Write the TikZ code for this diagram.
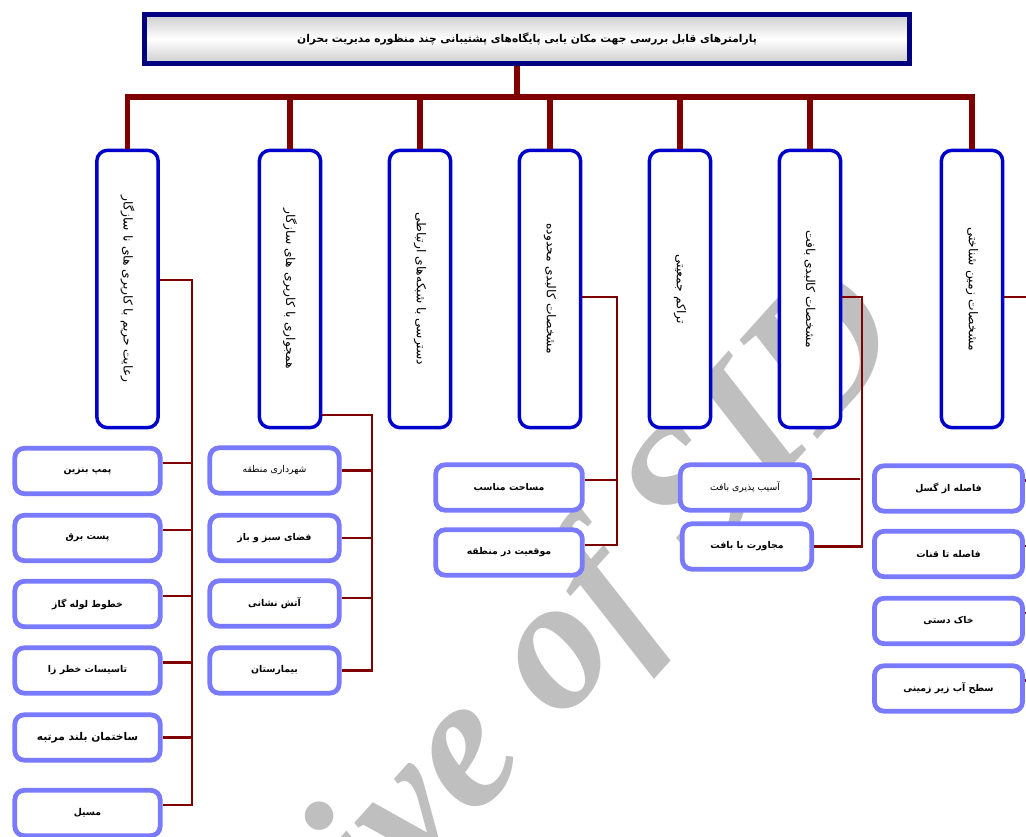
\documentclass[tikz,border=0pt]{standalone}
\usepackage{fontspec}
\usepackage{graphicx}
\TeXXeTstate=1
\newfontfamily\persianfont[Script=Arabic]{DejaVu Sans}
\newfontfamily\markfont{Liberation Serif}
\newcommand{\fatext}[1]{{\persianfont\beginR #1\endR}}
\newcommand{\vtext}[1]{\rotatebox{-90}{\fatext{#1}}}
\definecolor{navy}{RGB}{0,0,128}
\definecolor{mainblue}{RGB}{0,0,204}
\definecolor{subblue}{RGB}{122,122,255}
\definecolor{maroon}{RGB}{128,0,0}
\tikzset{
  titlebox/.style={draw=navy, line width=3.5pt, top color=gray!40, bottom color=gray!40,
    middle color=white, minimum width=574pt, minimum height=37pt, inner sep=0pt,
    font=\fontsize{8}{10}\selectfont\bfseries},
  mainbox/.style={draw=mainblue, line width=2.6pt, rounded corners=8pt, fill=white,
    minimum width=46pt, minimum height=208pt, inner sep=0pt, font=\fontsize{9.2}{11}\selectfont},
  subbox/.style={draw=subblue, line width=3.6pt, rounded corners=7pt, fill=white,
    minimum height=34pt, inner sep=0pt, font=\fontsize{7}{8}\selectfont\bfseries},
  plain/.style={font=\fontsize{7}{8}\selectfont},
  trunk/.style={draw=maroon, line width=3.8pt},
  branch/.style={draw=maroon, line width=1.8pt},
  watermark/.style={text=gray!50, rotate=48, inner sep=0pt,
    font=\markfont\bfseries\itshape\fontsize{142}{142}\selectfont}
}
\begin{document}
\begin{tikzpicture}[x=0.75pt,y=-0.75pt]
\useasboundingbox (0,0) rectangle (1026,837);
% watermark behind everything
\node[watermark] (wm) at (481,743) {Archive of SID};

% title
\node[titlebox] (title) at (527,39) {\fatext{پارامترهای  قابل بررسی جهت مکان یابی پایگاه‌های پشتیبانی چند منظوره مدیریت بحران}};

% main criteria
\node[mainbox] (harim) at (127.5,289) {\vtext{رعایت حریم با کاربری های نا سازگار}};
\node[mainbox] (hamjavari) at (290,289) {\vtext{همجواری با کاربری های سازگار}};
\node[mainbox] (dastrasi) at (420,289) {\vtext{دسترسی با شبکه‌های ارتباطی}};
\node[mainbox] (mahdoude) at (550,289) {\vtext{مشخصات کالبدی محدوده}};
\node[mainbox] (tarakom) at (680,289) {\vtext{تراکم جمعیتی}};
\node[mainbox] (baft) at (810,289) {\vtext{مشخصات کالبدی بافت}};
\node[mainbox] (zamin) at (972,289) {\vtext{مشخصات زمین شناختی}};

% sub criteria
\node[subbox, minimum width=109pt] (h1) at (87.5,471) {\fatext{پمپ بنزین}};
\node[subbox, minimum width=109pt] (h2) at (87.5,538) {\fatext{پست برق}};
\node[subbox, minimum width=109pt] (h3) at (87.5,604) {\fatext{خطوط لوله گاز}};
\node[subbox, minimum width=109pt] (h4) at (87.5,670.5) {\fatext{تاسیسات خطر زا}};
\node[subbox, minimum width=109pt, font=\fontsize{8}{9}\selectfont\bfseries] (h5) at (87.5,737.5) {\fatext{ساختمان بلند مرتبه}};
\node[subbox, minimum width=109pt] (h6) at (87.5,813) {\fatext{مسیل}};

\node[subbox, minimum width=97pt, plain] (j1) at (274.5,470.5) {\fatext{شهرداری منطقه}};
\node[subbox, minimum width=97pt] (j2) at (274.5,538) {\fatext{فضای سبز و باز}};
\node[subbox, minimum width=97pt] (j3) at (274.5,603.5) {\fatext{آتش نشانی}};
\node[subbox, minimum width=97pt] (j4) at (274.5,670.5) {\fatext{بیمارستان}};

\node[subbox, minimum width=110pt] (m1) at (509,487.5) {\fatext{مساحت مناسب}};
\node[subbox, minimum width=110pt] (m2) at (509,552.5) {\fatext{موقعیت در منطقه}};

\node[subbox, minimum width=97pt, plain] (b1) at (745,487.5) {\fatext{آسیب پذیری بافت}};
\node[subbox, minimum width=97pt] (b2) at (747,546.5) {\fatext{مجاورت با بافت}};

\node[subbox, minimum width=111pt] (z1) at (948.5,488.5) {\fatext{فاصله از گسل}};
\node[subbox, minimum width=111pt] (z2) at (948.5,554) {\fatext{فاصله تا قنات}};
\node[subbox, minimum width=111pt] (z3) at (948.5,621) {\fatext{خاک دستی}};
\node[subbox, minimum width=111pt] (z4) at (948.5,688.5) {\fatext{سطح آب زیر زمینی}};

% trunk lines
\coordinate (barM) at (517,97);
\draw[trunk] (title.south -| barM) -- (barM);
\draw[trunk] (harim.north) |- (barM) -| (zamin.north);
\draw[trunk] (hamjavari.north) -- (hamjavari.north |- barM);
\draw[trunk] (dastrasi.north) -- (dastrasi.north |- barM);
\draw[trunk] (mahdoude.north) -- (mahdoude.north |- barM);
\draw[trunk] (tarakom.north) -- (tarakom.north |- barM);
\draw[trunk] (baft.north) -- (baft.north |- barM);

% branches
\draw[branch] ([yshift=6.75pt]harim.east) -| ([xshift=22pt,yshift=6pt]h6.east) -- ([yshift=6pt]h6.east);
\draw[branch] ([yshift=6pt]h1.east) -- ++(22pt,0);
\draw[branch] ([yshift=6pt]h2.east) -- ++(22pt,0);
\draw[branch] ([yshift=6pt]h3.east) -- ++(22pt,0);
\draw[branch] ([yshift=6pt]h4.east) -- ++(22pt,0);
\draw[branch] (h5.east) -- ++(22pt,0);

\draw[branch] ([yshift=11pt]hamjavari.south east) -| ([xshift=23pt]j4.east) -- (j4.east);
\draw[branch] (j1.east) -- ++(23pt,0);
\draw[branch] (j2.east) -- ++(23pt,0);
\draw[branch] ([yshift=4pt]j3.east) -- ++(23pt,0);

\draw[branch] ([yshift=-6pt]mahdoude.east) -| ([xshift=24pt,yshift=5.6pt]m2.east) -- ([yshift=5.6pt]m2.east);
\draw[branch] ([yshift=5.6pt]m1.east) -- ++(24pt,0);

\draw[branch] ([yshift=-6pt]baft.east) -| ([xshift=36pt]b2.east) -- (b2.east);
\draw[branch] ([yshift=6.4pt]b1.east) -- ++(36pt,0);

\draw[branch] ([yshift=-6pt]zamin.east) -| ([xshift=15pt,yshift=6pt]z4.east) -- ([yshift=6pt]z4.east);
\draw[branch] ([yshift=6pt]z1.east) -- ++(15pt,0);
\draw[branch] ([yshift=6pt]z2.east) -- ++(15pt,0);
\draw[branch] ([yshift=6pt]z3.east) -- ++(15pt,0);
\end{tikzpicture}
\end{document}
